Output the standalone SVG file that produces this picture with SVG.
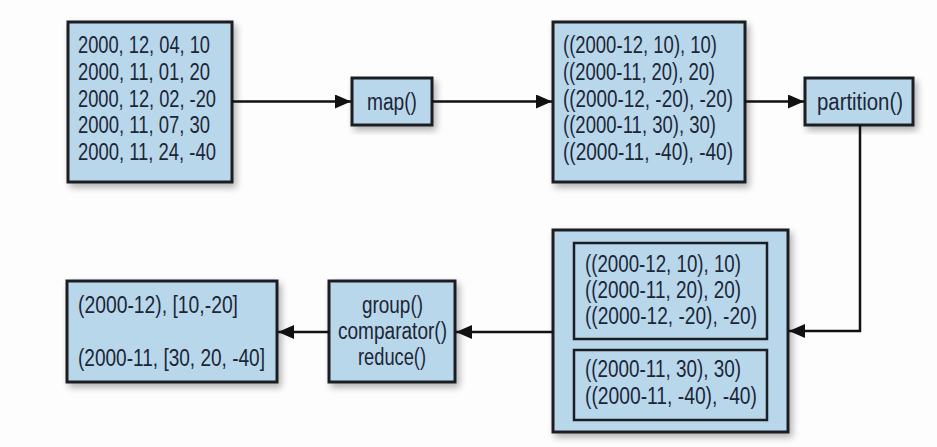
<svg xmlns="http://www.w3.org/2000/svg" width="937" height="447" viewBox="0 0 937 447">
<defs>
<filter id="sh" x="-10%" y="-10%" width="130%" height="130%">
<feGaussianBlur in="SourceAlpha" stdDeviation="3.5"/>
<feOffset dx="3" dy="4" result="b"/>
<feComponentTransfer><feFuncA type="linear" slope="0.3"/></feComponentTransfer>
<feMerge><feMergeNode/><feMergeNode in="SourceGraphic"/></feMerge>
</filter>
<marker id="ah" viewBox="0 0 16 14" refX="16" refY="7" markerWidth="16" markerHeight="14" markerUnits="userSpaceOnUse" orient="auto">
<path d="M0,0 L16,7 L0,14 Z" fill="#111"/>
</marker>
</defs>
<style>
.box{fill:#b9d7eb;stroke:#1b1e22;stroke-width:3}
.inner{fill:#b9d7eb;stroke:#1b1e22;stroke-width:2.5}
.t{font-family:"Liberation Sans",Arial,sans-serif;font-size:23px;fill:#1b2636}
.c{text-anchor:middle}
.ln{fill:none;stroke:#111;stroke-width:2.5}
</style>
<rect width="937" height="447" fill="#fdfdfd"/>
<g id="input">
<rect class="box" x="68" y="22" width="164" height="160" filter="url(#sh)"/>
<text class="t" x="78" y="53" textLength="132" lengthAdjust="spacingAndGlyphs">2000, 12, 04, 10</text>
<text class="t" x="78" y="80" textLength="132" lengthAdjust="spacingAndGlyphs">2000, 11, 01, 20</text>
<text class="t" x="78" y="106.5" textLength="138" lengthAdjust="spacingAndGlyphs">2000, 12, 02, -20</text>
<text class="t" x="78" y="133" textLength="132" lengthAdjust="spacingAndGlyphs">2000, 11, 07, 30</text>
<text class="t" x="78" y="160" textLength="138" lengthAdjust="spacingAndGlyphs">2000, 11, 24, -40</text>
</g>
<g id="map">
<rect class="box" x="352" y="78" width="80" height="47" filter="url(#sh)"/>
<text class="t" x="367" y="110" textLength="50" lengthAdjust="spacingAndGlyphs">map()</text>
</g>
<g id="mapped">
<rect class="box" x="553" y="22" width="192" height="160" filter="url(#sh)"/>
<text class="t" x="563" y="53" textLength="154" lengthAdjust="spacingAndGlyphs">((2000-12, 10), 10)</text>
<text class="t" x="563" y="80" textLength="152" lengthAdjust="spacingAndGlyphs">((2000-11, 20), 20)</text>
<text class="t" x="563" y="106.5" textLength="170" lengthAdjust="spacingAndGlyphs">((2000-12, -20), -20)</text>
<text class="t" x="563" y="133" textLength="153" lengthAdjust="spacingAndGlyphs">((2000-11, 30), 30)</text>
<text class="t" x="563" y="160" textLength="170" lengthAdjust="spacingAndGlyphs">((2000-11, -40), -40)</text>
</g>
<g id="partition">
<rect class="box" x="805" y="78" width="108" height="47" filter="url(#sh)"/>
<text class="t" x="817" y="110" textLength="86" lengthAdjust="spacingAndGlyphs">partition()</text>
</g>
<g id="partitions">
<rect class="box" x="553" y="230" width="235" height="202" filter="url(#sh)"/>
<rect class="inner" x="574" y="243" width="193" height="96"/>
<text class="t" x="585" y="272" textLength="156" lengthAdjust="spacingAndGlyphs">((2000-12, 10), 10)</text>
<text class="t" x="585" y="298" textLength="156" lengthAdjust="spacingAndGlyphs">((2000-11, 20), 20)</text>
<text class="t" x="585" y="324" textLength="172" lengthAdjust="spacingAndGlyphs">((2000-12, -20), -20)</text>
<rect class="inner" x="574" y="350" width="193" height="70"/>
<text class="t" x="585" y="377" textLength="156" lengthAdjust="spacingAndGlyphs">((2000-11, 30), 30)</text>
<text class="t" x="585" y="404" textLength="172" lengthAdjust="spacingAndGlyphs">((2000-11, -40), -40)</text>
</g>
<g id="reduce">
<rect class="box" x="329" y="281" width="126" height="101" filter="url(#sh)"/>
<text class="t" x="362" y="313" textLength="61" lengthAdjust="spacingAndGlyphs">group()</text>
<text class="t" x="338" y="339" textLength="109" lengthAdjust="spacingAndGlyphs">comparator()</text>
<text class="t" x="358" y="365" textLength="68" lengthAdjust="spacingAndGlyphs">reduce()</text>
</g>
<g id="output">
<rect class="box" x="67" y="281" width="210" height="101" filter="url(#sh)"/>
<text class="t" x="78" y="313" textLength="160" lengthAdjust="spacingAndGlyphs">(2000-12), [10,-20]</text>
<text class="t" x="78" y="366" textLength="187" lengthAdjust="spacingAndGlyphs">(2000-11, [30, 20, -40]</text>
</g>
<g id="connectors">
<path class="ln" d="M232,101.5 H351" marker-end="url(#ah)"/>
<path class="ln" d="M432,101.5 H552" marker-end="url(#ah)"/>
<path class="ln" d="M745,101.5 H804" marker-end="url(#ah)"/>
<path class="ln" d="M860,125 V331 H789" marker-end="url(#ah)"/>
<path class="ln" d="M553,332 H456" marker-end="url(#ah)"/>
<path class="ln" d="M329,332 H278" marker-end="url(#ah)"/>
</g>
</svg>
